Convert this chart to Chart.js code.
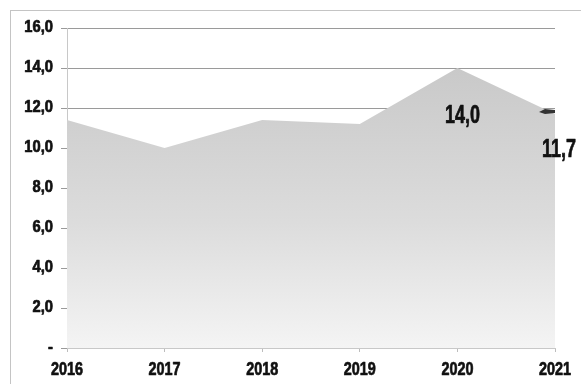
<!DOCTYPE html>
<html>
<head>
<meta charset="utf-8">
<script src="https://cdn.jsdelivr.net/npm/chart.js@4/dist/chart.umd.min.js"></script>
<style>
  html, body { margin: 0; padding: 0; background: #fff; }
  #wrap { width: 581px; height: 384px; position: relative; }
</style>
</head>
<body>
<div id="wrap"><canvas id="chart" width="581" height="384"></canvas></div>
<script>
  // series
  var years = ['2016', '2017', '2018', '2019', '2020', '2021'];
  var values = [11.4, 10.0, 11.4, 11.2, 14.0, 11.7];
  // value axis
  var yTicks = [0, 2, 4, 6, 8, 10, 12, 14, 16];
  // only these points carry a printed value
  var labelledIdx = [4, 5];

  var FONT = '"Liberation Sans", Arial, sans-serif';

  function fmt(v) {
    if (v === 0) return '-';
    return v.toFixed(1).replace('.', ',');
  }

  // condensed heavy text: squeeze horizontally and thicken with a thin stroke
  function narrowText(c, txt, x, y, size, squeeze, align) {
    c.save();
    c.translate(x, y);
    c.scale(squeeze, 1);
    c.font = 'bold ' + size + 'px ' + FONT;
    c.textAlign = align || 'center';
    c.textBaseline = 'middle';
    c.fillStyle = '#111';
    c.strokeStyle = '#111';
    c.lineWidth = 0.7;
    c.lineJoin = 'round';
    c.fillText(txt, 0, 0);
    c.strokeText(txt, 0, 0);
    c.restore();
  }

  // frame round the whole chart (only top and left edge fall inside the canvas)
  var framePlugin = {
    id: 'frame',
    beforeDraw: function (chart) {
      var c = chart.ctx;
      c.save();
      c.strokeStyle = '#c4c4c4';
      c.lineWidth = 1;
      c.strokeRect(10.5, 10.5, 700, 500);
      c.restore();
    }
  };

  // axis labels, drawn condensed and heavy at the scales' tick positions
  var axisLabels = {
    id: 'axisLabels',
    afterDraw: function (chart) {
      var xs = chart.scales.x;
      var ys = chart.scales.y;
      var c = chart.ctx;
      years.forEach(function (y, i) {
        narrowText(c, y, xs.getPixelForTick(i), xs.bottom - 14, 18, 0.8);
      });
      yTicks.forEach(function (v) {
        narrowText(c, fmt(v), ys.right - 14, ys.getPixelForValue(v), 16, 0.92, 'right');
      });
    }
  };

  // value labels and the small end marker at the last point
  var valueLabels = {
    id: 'valueLabels',
    afterDatasetsDraw: function (chart, args, opts) {
      var c = chart.ctx;
      var meta = chart.getDatasetMeta(0);
      labelledIdx.forEach(function (i, k) {
        var p = meta.data[i];
        var off = opts.offsets[k];
        narrowText(c, fmt(values[i]), p.x + off[0], p.y + off[1], 25, 0.72);
      });
      var last = meta.data[meta.data.length - 1];
      c.save();
      c.fillStyle = '#333';
      c.beginPath();
      c.moveTo(last.x - 16, last.y - 2);
      c.lineTo(last.x - 10, last.y - 5);
      c.lineTo(last.x, last.y - 4);
      c.lineTo(last.x, last.y - 1);
      c.lineTo(last.x - 10, last.y);
      c.closePath();
      c.fill();
      c.restore();
    }
  };

  var ctx = document.getElementById('chart').getContext('2d');
  new Chart(ctx, {
    type: 'line',
    data: {
      labels: years,
      datasets: [{
        data: values,
        fill: 'origin',
        borderWidth: 0,
        borderColor: 'rgba(0,0,0,0)',
        pointRadius: 0,
        tension: 0,
        backgroundColor: function (context) {
          var chart = context.chart;
          var area = chart.chartArea;
          if (!area) return '#d8d8d8';
          var top = chart.scales.y.getPixelForValue(14);
          var g = chart.ctx.createLinearGradient(0, top, 0, area.bottom);
          g.addColorStop(0, '#c9c9c9');
          g.addColorStop(0.55, '#dcdcdc');
          g.addColorStop(1, '#f4f4f4');
          return g;
        }
      }]
    },
    options: {
      responsive: false,
      animation: false,
      layout: { padding: { left: 10, top: 28, right: 26, bottom: 0 } },
      plugins: {
        legend: { display: false },
        tooltip: { enabled: false },
        valueLabels: { offsets: [[5, 48], [4, 36]] }
      },
      scales: {
        x: {
          offset: false,
          grid: { drawOnChartArea: false, drawTicks: true, tickLength: 4, color: '#bdbdbd' },
          border: { color: '#c8c8c8' },
          ticks: {
            color: 'rgba(0,0,0,0)',
            maxRotation: 0,
            font: { family: FONT, size: 14, weight: 'bold' }
          },
          afterFit: function (s) { s.height = 36; }
        },
        y: {
          min: 0,
          max: 16,
          afterBuildTicks: function (s) {
            s.ticks = yTicks.map(function (v) { return { value: v }; });
          },
          grid: { color: '#9a9a9a', tickLength: 6, drawTicks: true },
          border: { color: '#c8c8c8' },
          ticks: {
            color: 'rgba(0,0,0,0)',
            padding: 8,
            font: { family: FONT, size: 15, weight: 'bold' },
            callback: function (v) { return fmt(v); }
          },
          afterFit: function (s) { s.width = 57; }
        }
      }
    },
    plugins: [framePlugin, axisLabels, valueLabels]
  });
</script>
</body>
</html>
